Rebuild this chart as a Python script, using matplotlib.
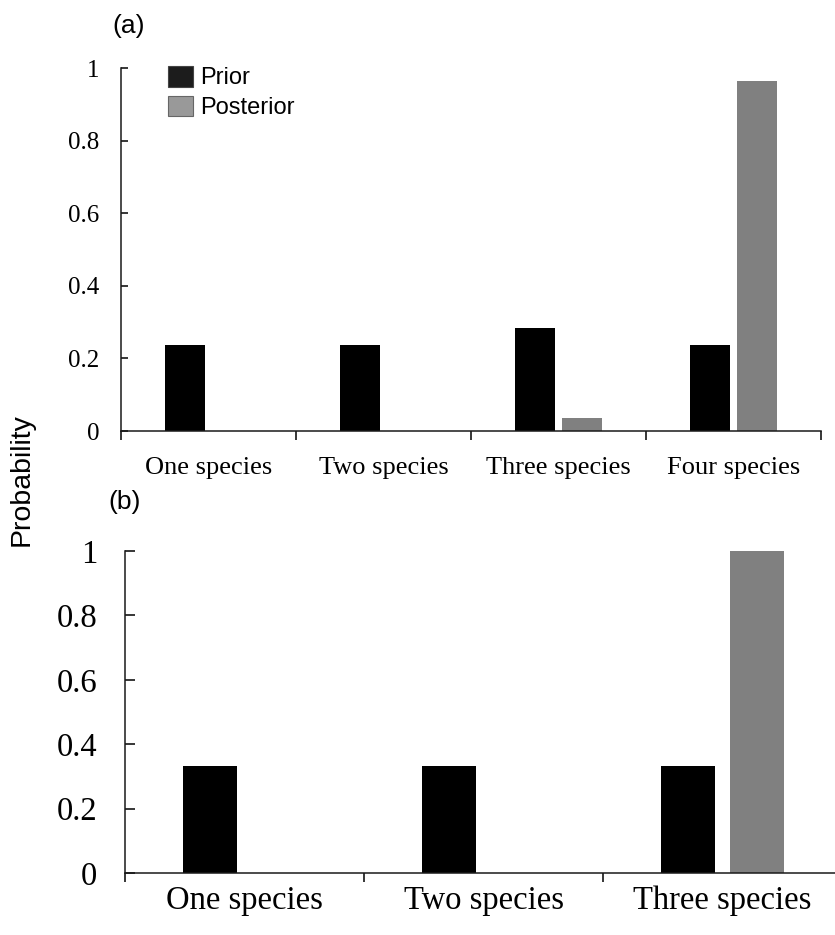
import numpy as np
import matplotlib
matplotlib.use("Agg")
import matplotlib.pyplot as plt
from matplotlib.patches import Patch

# model probabilities for the number of species
cats_a = ['One species', 'Two species', 'Three species', 'Four species']
prior_a = [0.238, 0.238, 0.285, 0.238]
post_a = [0.0, 0.0, 0.036, 0.964]

cats_b = ['One species', 'Two species', 'Three species']
prior_b = [0.333, 0.333, 0.333]
post_b = [0.0, 0.0, 1.0]

yticks = [0, 0.2, 0.4, 0.6, 0.8, 1.0]
ytick_labels = ['0', '0.2', '0.4', '0.6', '0.8', '1']

serif = 'Liberation Serif'
sans = 'Liberation Sans'

fig = plt.figure(figsize=(8.35, 9.35), dpi=100)
ax_a = fig.add_axes([0.1449, 0.5390, 0.8383, 0.3882])
ax_b = fig.add_axes([0.1497, 0.0663, 0.8587, 0.3444])


def draw_panel(ax, cats, prior, post, offset, width, yfs, xfs, ypad, xpad, ylen):
    x = np.arange(len(cats))
    ax.bar(x - offset, prior, width, color='#000000', linewidth=0)
    ax.bar(x + offset, post, width, color='#808080', linewidth=0)
    ax.set_xlim(-0.5, len(cats) - 0.5)
    ax.set_ylim(0, 1)
    for side in ['top', 'right']:
        ax.spines[side].set_visible(False)
    for side in ['left', 'bottom']:
        ax.spines[side].set_linewidth(1.1)
        ax.spines[side].set_color('#1a1a1a')
    ax.set_yticks(yticks)
    ax.set_yticklabels(ytick_labels, fontfamily=serif, fontsize=yfs)
    ax.tick_params(axis='y', direction='in', length=ylen, width=1.1, pad=ypad)
    # boundary ticks between categories, labels centred on the categories
    ax.set_xticks(np.arange(len(cats) + 1) - 0.5)
    ax.set_xticklabels([''] * (len(cats) + 1))
    ax.set_xticks(x, minor=True)
    ax.set_xticklabels(cats, minor=True, fontfamily=serif, fontsize=xfs)
    ax.tick_params(axis='x', which='major', direction='out', length=6.5, width=1.1)
    ax.tick_params(axis='x', which='minor', length=0, pad=xpad)


draw_panel(ax_a, cats_a, prior_a, post_a, 0.135, 0.225, 18, 19, 15.5, 19, 5)
draw_panel(ax_b, cats_b, prior_b, post_b, 0.145, 0.225, 23.5, 23.5, 20, 9, 7)

handles = [Patch(facecolor='#1c1c1c', edgecolor='#444444', linewidth=0.8, label='Prior'),
           Patch(facecolor='#999999', edgecolor='#666666', linewidth=0.8, label='Posterior')]
fig.legend(handles=handles, loc='upper left', bbox_to_anchor=(168 / 835, 1 - 66 / 935),
           frameon=False, borderpad=0, borderaxespad=0, handlelength=1.06,
           handleheight=0.97, handletextpad=0.3, labelspacing=0.27,
           prop={'family': sans, 'size': 17})

fig.text(112 / 835, 1 - 26 / 935, '(a)', fontfamily=sans, fontsize=19, va='center', ha='left')
fig.text(108 / 835, 1 - 502 / 935, '(b)', fontfamily=sans, fontsize=19, va='center', ha='left')
fig.text(22 / 835, 1 - 480 / 935, 'Probability', fontfamily=sans, fontsize=20.5,
         rotation=90, va='center', ha='center')

fig.savefig('out.png', dpi=100)
